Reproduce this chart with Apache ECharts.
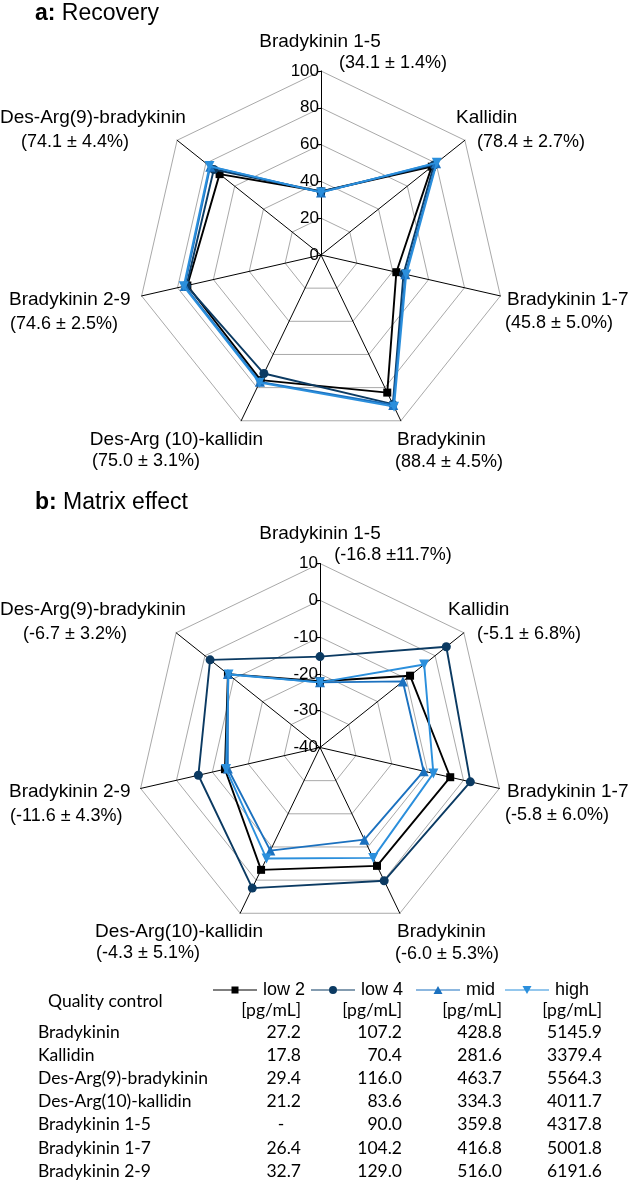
<!DOCTYPE html>
<html><head><meta charset="utf-8">
<style>html,body{margin:0;padding:0;background:#fff}#main{width:629px;height:1182px}</style>
<script src="https://cdn.jsdelivr.net/npm/echarts@6/dist/echarts.min.js"></script>
</head><body><div id="main"></div>
<script>
// Indicators in ECharts (counter-clockwise) order starting from the top
const indicators = ['Bradykinin 1-5','Des-Arg(9)-bradykinin','Bradykinin 2-9','Des-Arg(10)-kallidin','Bradykinin','Bradykinin 1-7','Kallidin'];
const seriesNames = ['low 2','low 4','mid','high'];

// a: Recovery (%)
const recLow2 = [34.5, 70.5, 74.5, 75.5, 83.0, 42.0, 77.0];
const recLow4 = [34.5, 74.5, 75.0, 71.5, 90.0, 46.0, 78.5];
const recMid  = [34.0, 77.0, 76.0, 76.5, 90.5, 47.0, 80.0];
const recHigh = [34.0, 77.5, 76.5, 77.0, 91.5, 47.5, 80.5];

// b: Matrix effect (%)
const matLow2 = [-22.0, -8.0, -13.5, -3.1, -4.3, -3.7, -8.7];
const matLow4 = [-15.3, -1.8, -6.1, 2.4, 0.2, 1.9, 3.9];
const matMid  = [-22.3, -8.0, -14.3, -8.9, -12.2, -11.1, -11.2];
const matHigh = [-22.3, -8.2, -13.8, -6.5, -6.7, -8.4, -3.8];

const recMin = 0, recMax = 100;
const matMin = -40, matMax = 10;

// Axis captions (name, mean ± sd)
const recCaptions = {
  'Bradykinin 1-5': '(34.1 ± 1.4%)', 'Kallidin': '(78.4 ± 2.7%)', 'Bradykinin 1-7': '(45.8 ± 5.0%)',
  'Bradykinin': '(88.4 ± 4.5%)', 'Des-Arg (10)-kallidin': '(75.0 ± 3.1%)', 'Bradykinin 2-9': '(74.6 ± 2.5%)',
  'Des-Arg(9)-bradykinin': '(74.1 ± 4.4%)'
};
const matCaptions = {
  'Bradykinin 1-5': '(-16.8 ±11.7%)', 'Kallidin': '(-5.1 ± 6.8%)', 'Bradykinin 1-7': '(-5.8 ± 6.0%)',
  'Bradykinin': '(-6.0 ± 5.3%)', 'Des-Arg(10)-kallidin': '(-4.3 ± 5.1%)', 'Bradykinin 2-9': '(-11.6 ± 4.3%)',
  'Des-Arg(9)-bradykinin': '(-6.7 ± 3.2%)'
};

// Table
const tableHeader = 'Quality control';
const tableUnit = '[pg/mL]';
const tableRows = ['Bradykinin','Kallidin','Des-Arg(9)-bradykinin','Des-Arg(10)-kallidin','Bradykinin 1-5','Bradykinin 1-7','Bradykinin 2-9'];
const concLow2 = ['27.2','17.8','29.4','21.2','-','26.4','32.7'];
const concLow4 = ['107.2','70.4','116.0','83.6','90.0','104.2','129.0'];
const concMid  = ['428.8','281.6','463.7','334.3','359.8','416.8','516.0'];
const concHigh = ['5145.9','3379.4','5564.3','4011.7','4317.8','5001.8','6191.6'];

const colors = ['#000000', '#0b3a62', '#1b71bf', '#2b8fdc'];
const symbols = ['rect', 'circle', 'triangle', 'path://M0,0 L10,0 L5,9 Z'];
const symbolSizes = [8, 9, 10, 10];
const legendIcons = [
  'path://M0,3.4 L44,3.4 L44,4.6 L0,4.6 Z M18.5,0.5 L25.5,0.5 L25.5,7.5 L18.5,7.5 Z',
  'path://M0,3.4 L44,3.4 L44,4.6 L0,4.6 Z M26,4 A4,4 0 1,1 18,4 A4,4 0 1,1 26,4 Z',
  'path://M0,3.4 L44,3.4 L44,4.6 L0,4.6 Z M22,0 L26.5,8 L17.5,8 Z',
  'path://M0,3.4 L44,3.4 L44,4.6 L0,4.6 Z M17.5,0 L26.5,0 L22,8 Z'
];
const legendLeft = [213, 311, 416, 505];

const LBL = 'Liberation Sans, Arial, sans-serif';
const TBL = 'Lato, sans-serif';

function radarCfg(center, min, max) {
  return {
    center: center, radius: 184, startAngle: 90, shape: 'polygon', splitNumber: 5,
    indicator: indicators.map((n, i) => ({ name: n, min: min, max: max,
      axisLabel: { show: i === 0 }, axisTick: { show: i === 0 } })),
    axisName: { show: false },
    axisLine: { lineStyle: { color: '#000', width: 1 } },
    splitLine: { lineStyle: { color: '#a9a9a9', width: 1 } },
    splitArea: { show: false },
    axisLabel: { show: false, color: '#000', fontSize: 17, fontFamily: LBL, margin: 2 },
    axisTick: { show: false, length: 4, lineStyle: { color: '#000' } }
  };
}

const recData = [recLow2, recLow4, recMid, recHigh];
const matData = [matLow2, matLow4, matMid, matHigh];
const series = [];
[recData, matData].forEach((set, ri) => {
  set.forEach((vals, si) => {
    series.push({
      type: 'radar', radarIndex: ri, name: seriesNames[si], z: 2 + si,
      symbol: symbols[si], symbolSize: symbolSizes[si],
      lineStyle: { color: colors[si], width: 1.9 },
      itemStyle: { color: colors[si] },
      data: [{ value: vals, name: seriesNames[si] }]
    });
  });
});

function txt(text, x, y, align, size, family, extra) {
  return Object.assign({ type: 'text', x: x, y: y, silent: true,
    style: { text: text, align: align, verticalAlign: 'middle', fontSize: size, fontFamily: family, fill: '#000' } }, extra || {});
}

const g = [];
// titles
g.push({ type: 'text', x: 35, y: 14, style: { text: '{b|a:} Recovery', verticalAlign: 'middle', fontSize: 23, fontFamily: LBL, fill: '#000',
  rich: { b: { fontWeight: 'bold', fontSize: 23, fontFamily: LBL } } } });
g.push({ type: 'text', x: 35, y: 503, style: { text: '{b|b:} Matrix effect', verticalAlign: 'middle', fontSize: 23, fontFamily: LBL, fill: '#000',
  rich: { b: { fontWeight: 'bold', fontSize: 23, fontFamily: LBL } } } });

const NS = 19, VS = 18;
function captions(map, names, dy) {
  const [n15, nK, n17, nB, n10, n29, n9] = names;
  g.push(txt(n15, 320, 42 + dy, 'center', NS, LBL));
  g.push(txt(map[n15], 393, 63 + dy, 'center', VS, LBL));
  g.push(txt(nK, dy ? 448 : 456, 118 + dy, 'left', NS, LBL));
  g.push(txt(map[nK], 477, 142 + dy, 'left', VS, LBL));
  g.push(txt(n9, 93, 118 + dy, 'center', NS, LBL));
  g.push(txt(map[n9], 75, 142 + dy, 'center', VS, LBL));
  g.push(txt(n29, 9, 300 + dy, 'left', NS, LBL));
  g.push(txt(map[n29], 10, 324 + dy, 'left', VS, LBL));
  g.push(txt(n17, 507, 300 + dy, 'left', NS, LBL));
  g.push(txt(map[n17], 505, 323 + dy, 'left', VS, LBL));
  g.push(txt(n10, 263, 440 + dy, 'right', NS, LBL));
  g.push(txt(map[n10], 200, 461 + dy, 'right', VS, LBL));
  g.push(txt(nB, 397, 440 + dy, 'left', NS, LBL));
  g.push(txt(map[nB], 395, 462 + dy, 'left', VS, LBL));
}
captions(recCaptions, ['Bradykinin 1-5','Kallidin','Bradykinin 1-7','Bradykinin','Des-Arg (10)-kallidin','Bradykinin 2-9','Des-Arg(9)-bradykinin'], 0);
captions(matCaptions, ['Bradykinin 1-5','Kallidin','Bradykinin 1-7','Bradykinin','Des-Arg(10)-kallidin','Bradykinin 2-9','Des-Arg(9)-bradykinin'], 492);

// table
const colRight = [301, 402, 502, 602];
const TS = 17.5;
g.push(txt(tableHeader, 48, 1001, 'left', TS, TBL));
colRight.forEach(x => g.push(txt(tableUnit, x, 1010, 'right', TS, TBL)));
const cols = [concLow2, concLow4, concMid, concHigh];
tableRows.forEach((name, r) => {
  const y = 1032 + r * 23.2;
  g.push(txt(name, 38, y, 'left', TS, TBL));
  cols.forEach((c, ci) => {
    if (c[r] === '-') g.push(txt(c[r], colRight[ci] - 20, y, 'center', TS, TBL));
    else g.push(txt(c[r], colRight[ci], y, 'right', TS, TBL));
  });
});

const legends = seriesNames.map((n, i) => ({
  data: [{ name: n, icon: legendIcons[i] }], left: legendLeft[i], top: 981, padding: 0,
  itemWidth: 44, itemHeight: 8, selectedMode: false,
  textStyle: { color: '#000', fontSize: 18, fontFamily: LBL, padding: [0, 0, 0, 1] }
}));

const chart = echarts.init(document.getElementById('main'), null, { renderer: 'canvas' });
chart.setOption({
  animation: false,
  backgroundColor: '#fff',
  legend: legends,
  radar: [radarCfg([321, 255], recMin, recMax), radarCfg([320, 747.5], matMin, matMax)],
  series: series,
  graphic: g
});
</script></body></html>
